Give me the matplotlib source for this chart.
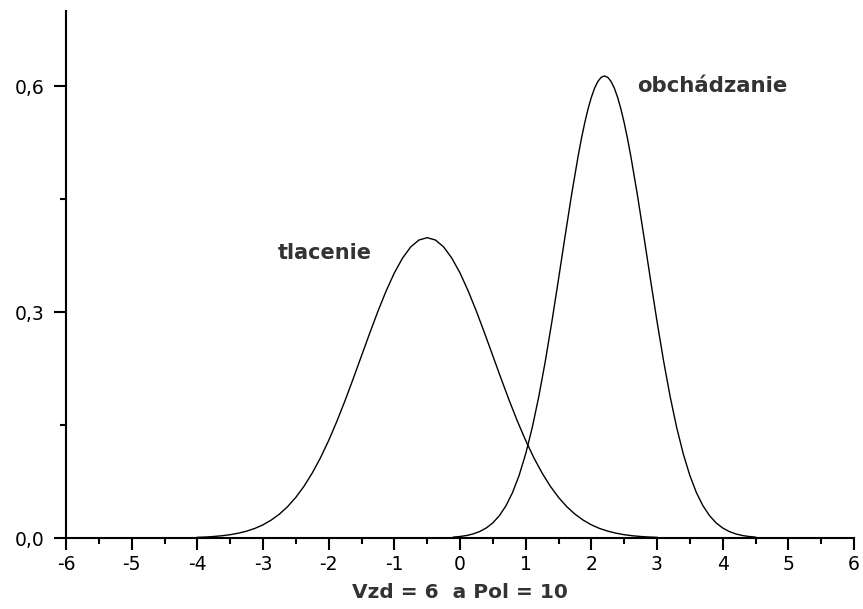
import numpy as np
import matplotlib
matplotlib.use("Agg")
import matplotlib.pyplot as plt
from matplotlib.ticker import MultipleLocator, FixedLocator, FuncFormatter

# curve values
tlacenie_x = np.linspace(-4.0, 3.0, 57)
tlacenie_y = [0.0009, 0.0013, 0.0020, 0.0030, 0.0044, 0.0064, 0.0091, 0.0127,
              0.0175, 0.0238, 0.0317, 0.0417, 0.0540, 0.0688, 0.0863, 0.1065,
              0.1295, 0.1550, 0.1826, 0.2119, 0.2420, 0.2720, 0.3011, 0.3281,
              0.3521, 0.3718, 0.3867, 0.3958, 0.3989,
              0.3958, 0.3867, 0.3718, 0.3521, 0.3281, 0.3011, 0.2720, 0.2420,
              0.2119, 0.1826, 0.1550, 0.1295, 0.1065, 0.0863, 0.0688, 0.0540,
              0.0417, 0.0317, 0.0238, 0.0175, 0.0127, 0.0091, 0.0064, 0.0044,
              0.0030, 0.0020, 0.0013, 0.0009]

# coarse tails, finer steps around the peak
obch_x = np.concatenate([np.linspace(-0.1, 1.8, 20),
                         np.linspace(1.85, 2.55, 15),
                         np.linspace(2.6, 4.5, 20)])
obch_y = [0.0012, 0.0020, 0.0033, 0.0054, 0.0086, 0.0133, 0.0201, 0.0297,
          0.0428, 0.0603, 0.0831, 0.1117, 0.1466, 0.1879, 0.2353, 0.2878,
          0.3437, 0.4008, 0.4565, 0.5078,
          0.5309, 0.5517, 0.5700, 0.5853, 0.5976, 0.6065, 0.6119, 0.6137,
          0.6119, 0.6065, 0.5976, 0.5853, 0.5700, 0.5517, 0.5309,
          0.5078, 0.4565, 0.4008, 0.3437, 0.2878, 0.2353, 0.1879, 0.1466,
          0.1117, 0.0831, 0.0603, 0.0428, 0.0297, 0.0201, 0.0133, 0.0086,
          0.0054, 0.0033, 0.0020, 0.0012]

y_ticks = [0.0, 0.3, 0.6]
y_minor = [0.15, 0.45]
x_label = "Vzd = 6  a Pol = 10"

plt.rcParams['font.family'] = ['DejaVu Sans']

fig = plt.figure(figsize=(8.63, 6.09), dpi=100)
ax = fig.add_axes([66 / 863, 71 / 609, 788 / 863, 527 / 609])

ax.plot(tlacenie_x, tlacenie_y, color='black', lw=1.0)
ax.plot(obch_x, obch_y, color='black', lw=1.0)

ax.set_xlim(-6, 6)
ax.set_ylim(0, 0.70)

ax.spines['top'].set_visible(False)
ax.spines['right'].set_visible(False)
ax.spines['left'].set_linewidth(1.5)
ax.spines['bottom'].set_linewidth(1.5)

ax.xaxis.set_major_locator(MultipleLocator(1))
ax.xaxis.set_minor_locator(MultipleLocator(0.5))
ax.yaxis.set_major_locator(FixedLocator(y_ticks))
ax.yaxis.set_minor_locator(FixedLocator(y_minor))
ax.yaxis.set_major_formatter(FuncFormatter(lambda v, p: f"{v:.1f}".replace('.', ',')))
ax.xaxis.set_major_formatter(FuncFormatter(lambda v, p: f"{v:.0f}"))

ax.tick_params(axis='both', which='major', direction='out', length=8.5, width=1.5,
               labelsize=13.5, colors='black')
ax.tick_params(axis='both', which='minor', direction='out', length=4.5, width=1.5)
ax.tick_params(axis='x', which='major', pad=4)
ax.tick_params(axis='y', which='major', pad=7)

ax.set_xlabel(x_label, fontsize=14.5, fontweight='bold', color='#333333', labelpad=6)

ax.text(-2.77, 0.370, "tlacenie", fontsize=15, fontweight='bold', color='#333333',
        ha='left', va='baseline')
ax.text(2.70, 0.592, "obchádzanie", fontsize=15.3, fontweight='bold', color='#333333',
        ha='left', va='baseline')

fig.savefig("out.png", dpi=100)
